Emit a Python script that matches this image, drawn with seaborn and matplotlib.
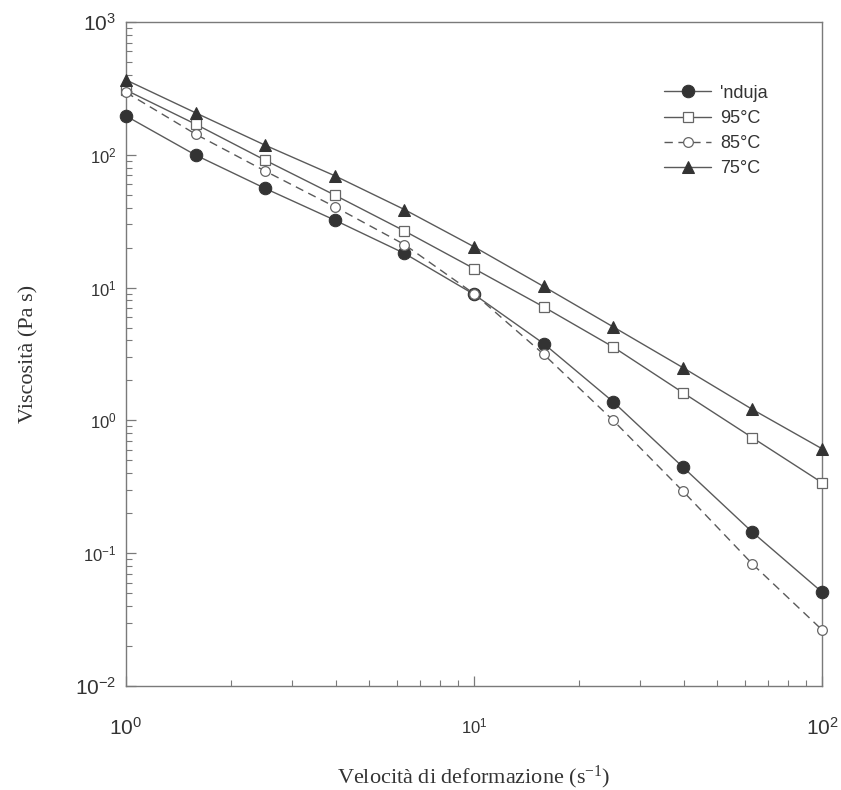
import matplotlib
matplotlib.use("Agg")
import matplotlib.pyplot as plt
import numpy as np
import pandas as pd
import seaborn as sns
from matplotlib.ticker import LogLocator, NullFormatter

# shear rate (s^-1), 5 points per decade
shear_rate = [1.0, 1.585, 2.512, 3.981, 6.310, 10.0, 15.85, 25.12, 39.81, 63.10, 100.0]

nduja = [196, 99.5, 55.8, 32.2, 18.1, 8.9, 3.79, 1.38, 0.446, 0.144, 0.051]
t95 = [307, 170, 91, 49.7, 26.7, 13.9, 7.16, 3.57, 1.62, 0.741, 0.34]
t85 = [295, 143, 75.4, 40.6, 21.1, 9.0, 3.15, 1.0, 0.294, 0.083, 0.0265]
t75 = [366, 207, 118, 69.5, 38.7, 20.3, 10.2, 5.06, 2.50, 1.21, 0.612]

series_names = ["'nduja", "95°C", "85°C", "75°C"]

sns.set_style("ticks")
plt.rcParams["font.family"] = ["Liberation Sans", "DejaVu Sans"]
plt.rcParams["mathtext.default"] = "regular"
plt.rcParams["axes.unicode_minus"] = False

df = pd.DataFrame({
    "rate": shear_rate * 4,
    "visc": nduja + t95 + t85 + t75,
    "serie": np.repeat(series_names, len(shear_rate)),
})

line_col = "#5a5a5a"
mark_col = "#333333"
styles = {
    "'nduja": dict(marker="o", markersize=9, markerfacecolor=mark_col, markeredgecolor=mark_col, linestyle="-"),
    "95°C": dict(marker="s", markersize=6.5, markerfacecolor="white", markeredgecolor="#666666", markeredgewidth=0.9, linestyle="-"),
    "85°C": dict(marker="o", markersize=7, markerfacecolor="white", markeredgecolor="#666666", markeredgewidth=0.9, linestyle=(0, (6, 4))),
    "75°C": dict(marker="^", markersize=8, markerfacecolor=mark_col, markeredgecolor=mark_col, linestyle="-"),
}

fig = plt.figure(figsize=(8.41, 7.90), dpi=100)
ax = fig.add_axes([0.1498, 0.1316, 0.8276, 0.8406])

for name in series_names:
    sub = df[df["serie"] == name]
    sns.lineplot(data=sub, x="rate", y="visc", ax=ax, color=line_col, linewidth=1.0,
                 label=name, clip_on=False, zorder=3, **styles[name])

ax.set_xscale("log")
ax.set_yscale("log")
ax.set_xlim(1, 100)
ax.set_ylim(0.01, 1000)

for s in ax.spines.values():
    s.set_color("#7a7a7a")
    s.set_linewidth(1.0)

ax.xaxis.set_minor_locator(LogLocator(base=10, subs=np.arange(2, 10)))
ax.yaxis.set_minor_locator(LogLocator(base=10, subs=np.arange(2, 10)))
ax.xaxis.set_minor_formatter(NullFormatter())
ax.yaxis.set_minor_formatter(NullFormatter())
ax.tick_params(which="major", direction="in", length=7, width=0.9, color="#7a7a7a", labelcolor="#333333")
ax.tick_params(which="minor", direction="in", length=4, width=0.8, color="#7a7a7a")
ax.tick_params(axis="x", which="major", pad=22)
ax.tick_params(axis="y", which="major", pad=7)

ax.set_xticks([1, 10, 100])
ax.set_yticks([0.01, 0.1, 1, 10, 100, 1000])
ax.set_xticklabels([r"$10^{0}$", r"$10^{1}$", r"$10^{2}$"])
ax.set_yticklabels([r"$10^{-2}$", r"$10^{-1}$", r"$10^{0}$", r"$10^{1}$", r"$10^{2}$", r"$10^{3}$"])
for i, lab in enumerate(ax.get_xticklabels()):
    lab.set_fontsize(15 if i in (0, 2) else 12)
for i, lab in enumerate(ax.get_yticklabels()):
    lab.set_fontsize(15 if i in (0, 5) else 12)

ax.set_xlabel("Velocità di deformazione (s$^{-1}$)", fontsize=16,
              family=["Liberation Serif", "DejaVu Serif"], color="#333333", labelpad=18)
ax.set_ylabel("Viscosità (Pa s)", fontsize=16,
              family=["Liberation Serif", "DejaVu Serif"], color="#333333", labelpad=26)

leg = ax.legend(loc="upper left", bbox_to_anchor=(0.75, 0.93), frameon=False,
                fontsize=13, handlelength=2.6, handletextpad=0.5, labelspacing=0.45)
for t in leg.get_texts():
    t.set_color("#333333")

fig.savefig("out.png", dpi=100)
